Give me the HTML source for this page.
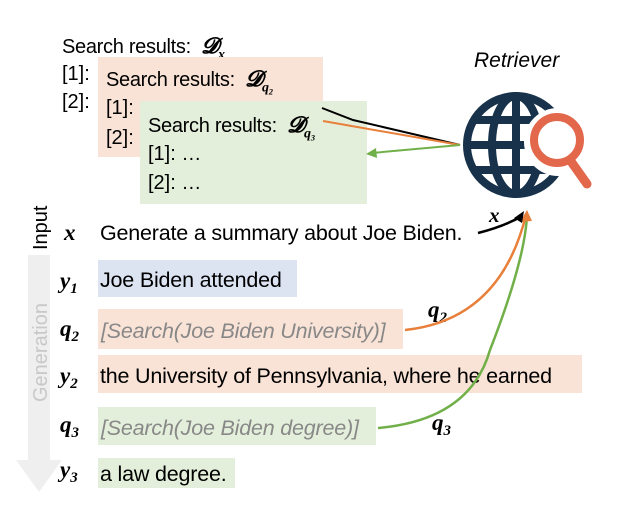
<!DOCTYPE html>
<html><head><style>
body{margin:0;background:#fff;width:634px;height:513px;overflow:hidden;position:relative;font-family:"Liberation Sans",sans-serif;}
.t{position:absolute;white-space:nowrap;color:#000;}
.box{position:absolute;}
.m{font-family:"Liberation Serif",serif;font-weight:bold;font-style:italic;}
</style></head><body>
<div class="t" style="left:62px;top:33px;font-size:20px;letter-spacing:-0.3px;">Search results:&nbsp;&nbsp;<span class="m" style="font-size:22px">𝓓<sub style="font-size:14px">x</sub></span></div>
<div class="t" style="left:62px;top:63px;font-size:20px;">[1]:</div>
<div class="t" style="left:62px;top:91px;font-size:20px;">[2]:</div>
<div class="box" style="left:98px;top:57px;width:225px;height:100px;background:#f9e3d7;"></div>
<div class="t" style="left:106px;top:66px;font-size:20px;letter-spacing:-0.3px;">Search results:&nbsp;&nbsp;<span class="m" style="font-size:22px">𝓓<sub style="font-size:14px">q₂</sub></span></div>
<div class="t" style="left:106px;top:97px;font-size:20px;">[1]:</div>
<div class="t" style="left:106px;top:127px;font-size:20px;">[2]:</div>
<div class="box" style="left:140px;top:101px;width:227px;height:103px;background:#e3efda;"></div>
<div class="t" style="left:148px;top:112px;font-size:20px;letter-spacing:-0.3px;">Search results:&nbsp;&nbsp;<span class="m" style="font-size:22px">𝓓<sub style="font-size:14px">q₃</sub></span></div>
<div class="t" style="left:148px;top:143px;font-size:20px;">[1]: …</div>
<div class="t" style="left:148px;top:172px;font-size:20px;">[2]: …</div>
<div class="t" style="left:474px;top:49px;font-size:21px;font-style:italic;">Retriever</div>

<div class="box" style="left:98px;top:260px;width:199px;height:37px;background:#dce3f1;"></div>
<div class="box" style="left:98px;top:309px;width:305px;height:40px;background:#f9e3d7;"></div>
<div class="box" style="left:98px;top:355px;width:484px;height:38px;background:#f9e3d7;"></div>
<div class="box" style="left:98px;top:407px;width:278px;height:38px;background:#e3efda;"></div>
<div class="box" style="left:98px;top:458px;width:137px;height:30px;background:#e3efda;"></div>

<svg width="634" height="513" style="position:absolute;left:0;top:0">
<polygon points="28,255 50,255 50,460 62,460 39,492 16,460 28,460" fill="#efefef"/>
<text x="47" y="250" transform="rotate(-90 47 250)" font-size="20" font-family="Liberation Sans">Input</text>
<text x="47" y="402" transform="rotate(-90 47 402)" font-size="20" font-family="Liberation Sans" fill="#c8c8c8">Generation</text>
<g font-family="Liberation Serif" font-weight="bold" font-style="italic" font-size="23">
<text x="64" y="240">x</text>
<text x="60" y="288">y<tspan font-size="15" dy="5">1</tspan></text>
<text x="60" y="336">q<tspan font-size="15" dy="5">2</tspan></text>
<text x="60" y="383">y<tspan font-size="15" dy="5">2</tspan></text>
<text x="60" y="432">q<tspan font-size="15" dy="5">3</tspan></text>
<text x="60" y="477">y<tspan font-size="15" dy="5">3</tspan></text>
<text x="489" y="222" font-size="21">x</text>
<text x="428" y="317">q<tspan font-size="15" dy="5">2</tspan></text>
<text x="432" y="430">q<tspan font-size="15" dy="5">3</tspan></text>
</g>
<g font-family="Liberation Sans" font-size="21.5" letter-spacing="-0.2">
<text x="100" y="240">Generate a summary about Joe Biden.</text>
<text x="100" y="287">Joe Biden attended</text>
<text x="101" y="338" font-style="italic" fill="#888">[Search(Joe Biden University)]</text>
<text x="100" y="383">the University of Pennsylvania, where he earned</text>
<text x="101" y="435" font-style="italic" fill="#888">[Search(Joe Biden degree)]</text>
<text x="100" y="481">a law degree.</text>
</g>
<path d="M322,108 Q340,115 353,120 L460,145" stroke="#000" stroke-width="2" fill="none"/>
<path d="M323,121 L460,145" stroke="#e87f3a" stroke-width="2" fill="none"/>
<path d="M460,145 L372,153" stroke="#71b049" stroke-width="2" fill="none"/>
<polygon points="366,154 376,148 377,158" fill="#71b049"/>
<path d="M478,233 Q505,226 522,216" stroke="#000" stroke-width="2.5" fill="none"/>
<path d="M405,330 Q500,320 526,215" stroke="#e87f3a" stroke-width="2.5" fill="none"/>
<path d="M378,428 Q470,420 490,350 Q525,260 527,215" stroke="#71b049" stroke-width="2.5" fill="none"/>
<polygon points="527,210 520,222 532,221" fill="#e87f3a"/>
<polygon points="524,211 514,218 522,223" fill="#000"/>
<g stroke="#17324a" stroke-width="8" fill="none">
<circle cx="516" cy="145" r="49"/>
<ellipse cx="516" cy="145" rx="24" ry="49"/>
<line x1="516" y1="96" x2="516" y2="194"/>
<line x1="467" y1="145" x2="565" y2="145"/>
<line x1="474" y1="120" x2="558" y2="120"/>
<line x1="474" y1="170" x2="558" y2="170"/>
</g>
<circle cx="558" cy="142" r="34" fill="#fff"/>
<line x1="570" y1="160" x2="587" y2="183" stroke="#fff" stroke-width="16"/>
<circle cx="557" cy="140" r="23" fill="none" stroke="#e2674b" stroke-width="8"/>
<line x1="570" y1="160" x2="587" y2="184" stroke="#e2674b" stroke-width="9" stroke-linecap="round"/>
</svg>
</body></html>
